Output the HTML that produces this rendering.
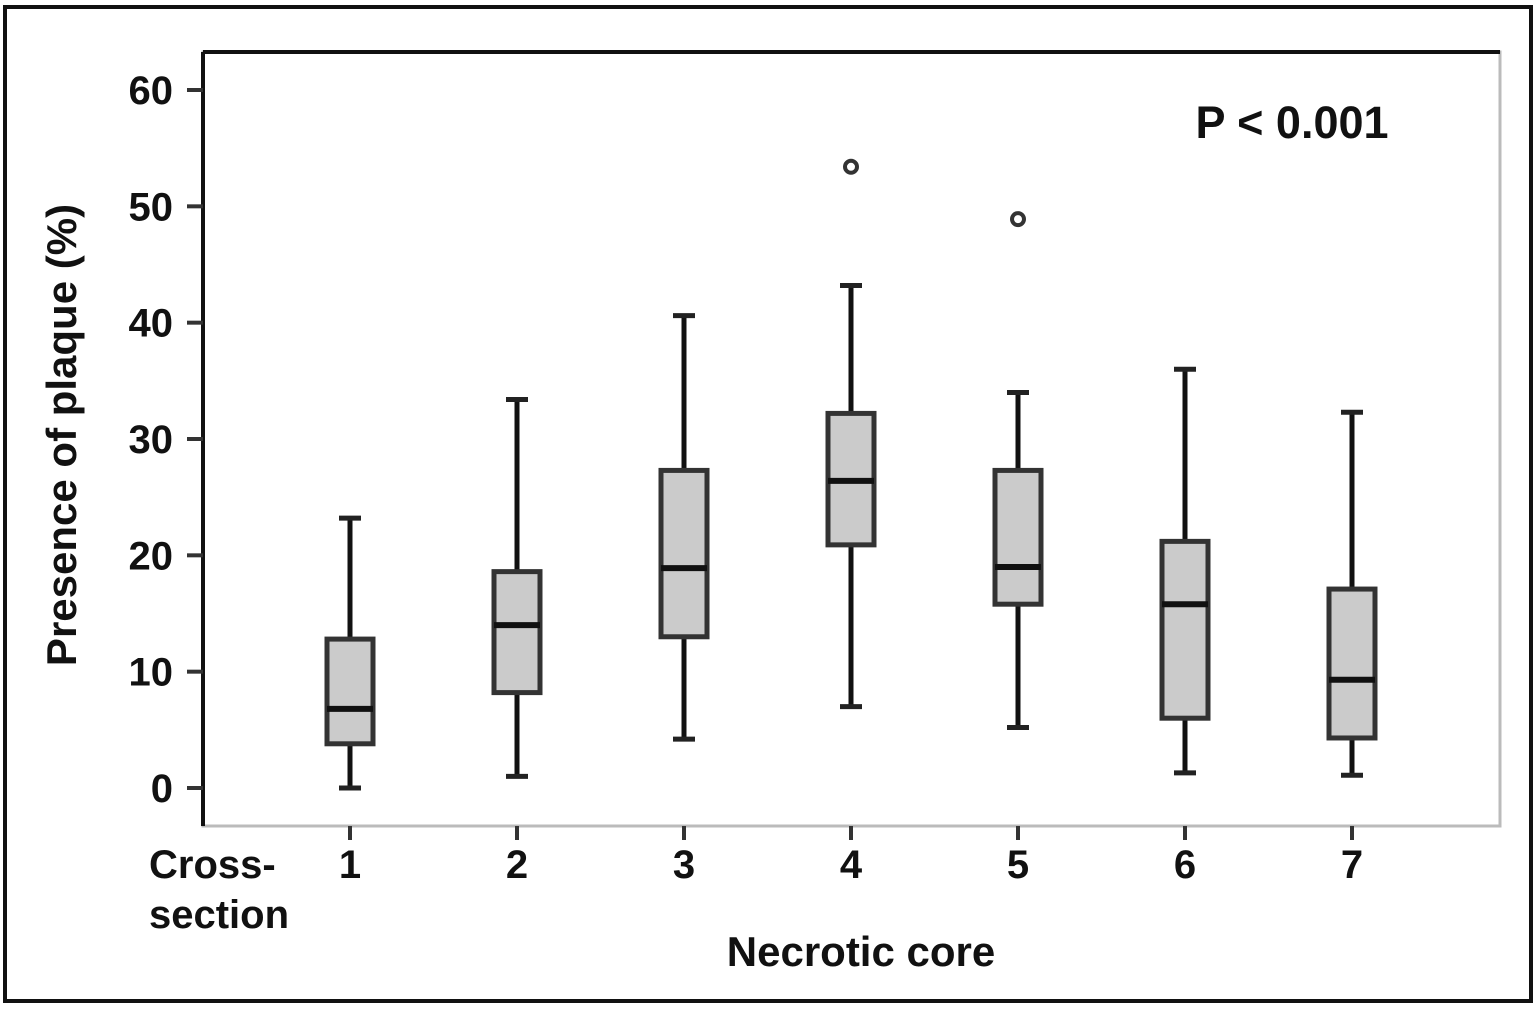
<!DOCTYPE html>
<html><head><meta charset="utf-8"><style>
body{margin:0;background:#fff}
svg{display:block;font-family:"Liberation Sans",Arial,sans-serif;font-weight:bold}
</style></head><body>
<svg id="chart" width="1538" height="1009" viewBox="0 0 1538 1009">
<rect x="5" y="7" width="1526" height="994" fill="none" stroke="#111" stroke-width="4"/>
<g id="plot"></g>
</svg>
<script>
const categories=["1","2","3","4","5","6","7"];
const whiskerLow=[0,1,4.2,7,5.2,1.3,1.1];
const q1=[3.8,8.2,13,20.9,15.8,6,4.3];
const medians=[6.8,14,18.9,26.4,19,15.8,9.3];
const q3=[12.8,18.6,27.3,32.2,27.3,21.2,17.1];
const whiskerHigh=[23.2,33.4,40.6,43.2,34,36,32.3];
const outlierCat=[3,4];
const outlierVal=[53.4,48.9];
const yTicks=[0,10,20,30,40,50,60];

const NS="http://www.w3.org/2000/svg";
const g=document.getElementById('plot');
const L=203,R=1500,T=52,B=826;
const y=v=>788-(v/60)*698;
const x=i=>350+i*167;
function mk(tag,attrs,text){const e=document.createElementNS(NS,tag);for(const k in attrs)e.setAttribute(k,attrs[k]);if(text!=null)e.textContent=text;g.appendChild(e);return e;}

let e;
e=mk('rect',{x:L,y:T,width:R-L,height:B-T,fill:'none',stroke:'#bbb','stroke-width':3});


e=mk('line',{x1:L,y1:T,x2:R,y2:T,stroke:'#111','stroke-width':4});


e=mk('line',{x1:L,y1:T,x2:L,y2:B,stroke:'#111','stroke-width':4});



yTicks.forEach(t=>{
  e=mk('line',{x1:187,y1:y(t),x2:L,y2:y(t),stroke:'#333','stroke-width':4});
  
  
  e=mk('text',{x:173,y:y(t)+14,'text-anchor':'end','font-size':40,fill:'#111'},String(t));
  
  
});

categories.forEach((c,i)=>{
  const cx=x(i);
  e=mk('line',{x1:cx,y1:B,x2:cx,y2:B+14,stroke:'#333','stroke-width':4});
  
  
  e=mk('text',{x:cx,y:878,'text-anchor':'middle','font-size':40,fill:'#111'},c);
  
  
  e=mk('line',{x1:cx,y1:y(whiskerLow[i]),x2:cx,y2:y(whiskerHigh[i]),stroke:'#111','stroke-width':5});
  
  
  [whiskerLow[i],whiskerHigh[i]].forEach(v=>{
    e=mk('line',{x1:cx-11,y1:y(v),x2:cx+11,y2:y(v),stroke:'#222','stroke-width':5});
    
    
  });
  e=mk('rect',{x:cx-23,y:y(q3[i]),width:46,height:y(q1[i])-y(q3[i]),fill:'#cbcbcb',stroke:'#333','stroke-width':5});
  
  
  e=mk('line',{x1:cx-23,y1:y(medians[i]),x2:cx+23,y2:y(medians[i]),stroke:'#111','stroke-width':6});
  
  
});

outlierCat.forEach((ci,k)=>{
  e=mk('circle',{cx:x(ci),cy:y(outlierVal[k]),r:6,fill:'#fff',stroke:'#333','stroke-width':4});
  
  
});

e=mk('text',{x:1292,y:138,'text-anchor':'middle','font-size':45,fill:'#111'},'P < 0.001');


e=mk('text',{x:149,y:878,'font-size':40,fill:'#111'},'Cross-');


e=mk('text',{x:149,y:928,'font-size':40,fill:'#111'},'section');


e=mk('text',{x:861,y:966,'text-anchor':'middle','font-size':42,fill:'#111'},'Necrotic core');


e=mk('text',{x:0,y:0,'text-anchor':'middle','font-size':42,fill:'#111',transform:'translate(76,435) rotate(-90)'},'Presence of plaque (%)');


</script>
</body></html>
